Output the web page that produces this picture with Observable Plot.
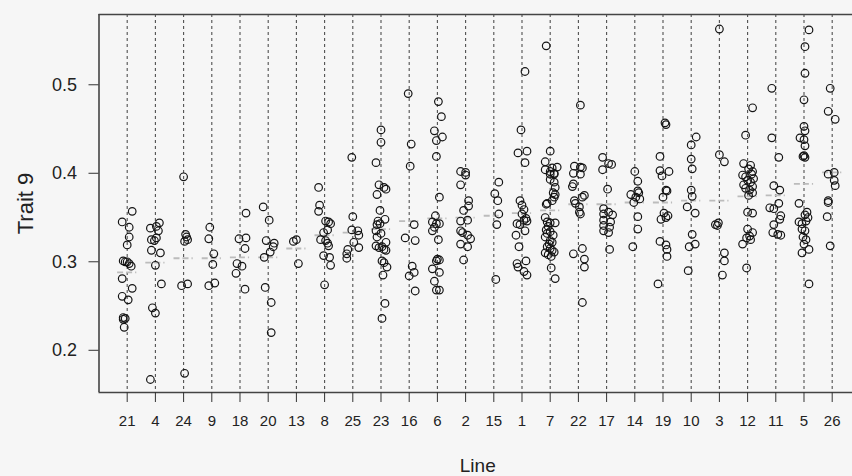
<!DOCTYPE html>
<html>
<head>
<meta charset="utf-8">
<script src="https://cdn.jsdelivr.net/npm/d3@7"></script>
<script src="https://cdn.jsdelivr.net/npm/@observablehq/plot@0.6"></script>
<style>
  html, body { margin: 0; padding: 0; background: #f6f6f6; }
  #chart svg { display: block; }
</style>
</head>
<body>
<div id="chart"></div>
<script>
// Categories (lines), in plotted order
const lines = ["21","4","24","9","18","20","13","8","25","23","16","6","2","15","1","7","22","17","14","19","10","3","12","11","5","26"];

// Trait 9 observations per line (same order as `lines`)
const traitValues = [
  [0.357,0.345,0.339,0.328,0.319,0.301,0.300,0.300,0.298,0.295,0.281,0.270,0.261,0.257,0.237,0.236,0.235,0.226],
  [0.344,0.340,0.338,0.335,0.327,0.325,0.324,0.313,0.310,0.296,0.275,0.248,0.242,0.167],
  [0.396,0.331,0.328,0.325,0.323,0.275,0.273,0.174],
  [0.339,0.326,0.309,0.297,0.276,0.273],
  [0.355,0.327,0.326,0.315,0.298,0.295,0.287,0.269],
  [0.362,0.347,0.324,0.321,0.317,0.311,0.305,0.271,0.254,0.220],
  [0.325,0.323,0.298],
  [0.384,0.364,0.357,0.346,0.345,0.343,0.336,0.333,0.325,0.324,0.321,0.318,0.307,0.305,0.296,0.274],
  [0.418,0.351,0.336,0.335,0.330,0.322,0.316,0.314,0.309,0.304],
  [0.449,0.435,0.412,0.387,0.384,0.382,0.376,0.358,0.348,0.346,0.343,0.342,0.335,0.332,0.328,0.322,0.318,0.317,0.316,0.314,0.313,0.301,0.299,0.294,0.285,0.253,0.236],
  [0.490,0.433,0.408,0.342,0.327,0.324,0.295,0.288,0.284,0.267],
  [0.481,0.464,0.448,0.441,0.437,0.419,0.373,0.352,0.345,0.343,0.343,0.339,0.335,0.325,0.303,0.302,0.301,0.292,0.288,0.278,0.268,0.268],
  [0.402,0.401,0.398,0.387,0.369,0.363,0.358,0.347,0.346,0.335,0.333,0.330,0.326,0.320,0.317,0.302],
  [0.390,0.377,0.369,0.354,0.342,0.280],
  [0.515,0.449,0.425,0.423,0.412,0.369,0.364,0.359,0.354,0.349,0.347,0.346,0.343,0.342,0.335,0.330,0.317,0.301,0.298,0.294,0.289,0.285],
  [0.544,0.425,0.413,0.407,0.406,0.404,0.402,0.400,0.399,0.399,0.393,0.390,0.384,0.378,0.376,0.373,0.369,0.366,0.365,0.350,0.345,0.344,0.344,0.340,0.336,0.334,0.332,0.330,0.328,0.324,0.322,0.320,0.317,0.315,0.313,0.311,0.310,0.308,0.306,0.293,0.281],
  [0.477,0.408,0.407,0.406,0.400,0.399,0.388,0.385,0.375,0.373,0.369,0.366,0.362,0.356,0.354,0.315,0.309,0.303,0.294,0.254],
  [0.418,0.411,0.410,0.404,0.382,0.360,0.356,0.354,0.353,0.347,0.345,0.341,0.339,0.335,0.333,0.314],
  [0.402,0.391,0.380,0.378,0.376,0.373,0.371,0.367,0.351,0.337,0.317],
  [0.457,0.455,0.419,0.403,0.402,0.397,0.381,0.380,0.373,0.355,0.352,0.350,0.348,0.323,0.319,0.314,0.306,0.275],
  [0.441,0.432,0.416,0.405,0.381,0.374,0.362,0.355,0.331,0.320,0.317,0.290],
  [0.563,0.421,0.413,0.344,0.342,0.341,0.310,0.301,0.285],
  [0.474,0.443,0.411,0.409,0.405,0.402,0.399,0.398,0.396,0.394,0.392,0.390,0.387,0.385,0.383,0.381,0.378,0.375,0.356,0.355,0.337,0.333,0.329,0.327,0.325,0.320,0.293],
  [0.496,0.440,0.418,0.386,0.381,0.366,0.361,0.360,0.352,0.348,0.342,0.333,0.331,0.330],
  [0.562,0.543,0.513,0.483,0.453,0.448,0.440,0.438,0.431,0.420,0.419,0.418,0.366,0.356,0.353,0.350,0.346,0.345,0.343,0.337,0.335,0.328,0.325,0.320,0.314,0.310,0.275],
  [0.496,0.470,0.461,0.401,0.399,0.392,0.386,0.369,0.367,0.351,0.318]
];

const jitter = [
  [5,-5,2,2,0,-4,-2,0,2,4,-5,5,-5,1,-4,-2,-4,-3],
  [4,1,-5,3,1,-4,-1,-4,5,0,6,-3,0,-5],
  [0,2,3,4,1,4,-2,1],
  [-2,-3,2,1,3,-3],
  [6,6,-1,5,-3,2,-4,5],
  [-5,1,-2,6,5,2,-4,-3,3,3],
  [0,-3,2],
  [-6,-5,-6,1,4,6,3,-1,-4,1,3,4,-1,5,6,0],
  [-1,0,-1,5,6,1,6,-5,-6,-6],
  [0,0,-5,-2,3,5,-4,-1,4,-3,-1,-4,-5,0,-4,5,-5,1,-2,3,5,1,3,6,2,4,1],
  [-1,2,1,5,-4,6,3,5,0,6],
  [1,4,-3,5,-1,-1,2,-2,-5,-1,2,-3,-5,1,0,2,-1,-5,2,-3,-1,2],
  [-5,0,0,-5,3,3,-2,2,-5,-5,-3,2,5,-5,2,-2],
  [5,1,4,5,3,2],
  [3,-1,5,-4,3,-2,0,2,0,4,2,5,-5,-2,3,-6,-3,4,-5,-4,2,5],
  [-4,0,-5,7,2,-5,0,4,0,4,0,4,5,3,5,4,2,-3,-4,-5,-3,0,5,-2,-4,0,-3,3,-5,0,2,-1,-3,0,2,4,-5,-2,1,1,5],
  [2,-4,2,4,-5,2,-5,-6,6,4,-4,-3,1,1,2,4,-5,6,6,4],
  [-4,2,5,-4,1,-3,2,-3,6,-3,4,-3,3,-3,2,3],
  [0,3,3,4,-4,1,5,-1,3,3,-2],
  [2,3,-3,-3,6,-1,3,4,0,1,5,3,-2,-3,3,4,4,-5],
  [5,0,0,1,0,1,-4,4,1,4,-2,-3],
  [0,0,5,-1,-4,-2,5,5,3],
  [5,-2,-4,3,1,5,4,-5,-2,6,0,3,-4,5,-2,2,5,1,0,5,0,5,2,-1,3,-5,-1],
  [-4,-4,3,-2,4,3,-6,-2,5,4,-2,-3,2,5],
  [5,1,1,0,0,1,-4,0,1,0,-1,1,-5,3,1,4,2,-5,-2,-2,1,-1,2,0,5,-2,5],
  [-2,-4,3,2,-4,2,3,-4,-4,-5,-2]
];

// Line means (grey dashed marks)
const means = [0.288,0.299,0.304,0.304,0.305,0.305,0.315,0.330,0.333,0.337,0.346,0.349,0.350,0.352,0.355,0.358,0.365,0.365,0.367,0.367,0.369,0.369,0.374,0.375,0.388,0.401];

// Axis ticks
const yTicks = [0.2, 0.3, 0.4, 0.5];
const yDomain = [0.1523, 0.5794];
const xDomain = [0, 26.72];

const positions = lines.map((d, i) => i + 1);
const points = lines.flatMap((line, i) =>
  traitValues[i].map((v, k) => ({
    line,
    pos: i + 1 + ((jitter[i] && jitter[i][k]) || 0) / 28.2,
    value: v
  }))
);

const font = "'Liberation Sans', Arial, Helvetica, sans-serif";

const chart = Plot.plot({
  width: 852,
  height: 476,
  marginLeft: 98.5,
  marginRight: 0,
  marginTop: 14,
  marginBottom: 84,
  x: { domain: xDomain, axis: null },
  y: { domain: yDomain, axis: null },
  style: { background: "#f6f6f6", fontFamily: font, color: "#222" },
  marks: [
    // vertical dashed guide lines
    Plot.ruleX(positions, { x: d => d, stroke: "#505050", strokeWidth: 1.1, strokeDasharray: "3,3" }),
    // mean marks
    Plot.ruleY(means, {
      y: d => d,
      x1: (d, i) => i + 1 - 0.34,
      x2: (d, i) => i + 1 + 0.34,
      stroke: "#bcbcbc",
      strokeWidth: 1.8,
      strokeDasharray: "6,3"
    }),
    // observations
    Plot.dot(points, { x: "pos", y: "value", r: 3.8, stroke: "#151515", strokeWidth: 1.2, fill: "none" }),
    // frame (left, top, bottom)
    Plot.ruleX([xDomain[0]], { stroke: "#444", strokeWidth: 1.6 }),
    Plot.ruleY(yDomain, { stroke: "#444", strokeWidth: 1.6 }),
    // axes
    Plot.axisY(yTicks, {
      tickSize: 10, tickPadding: 12, fontSize: 18, label: null,
      stroke: "#333", fill: "#222", tickFormat: d => d.toFixed(1)
    }),
    Plot.axisX(positions, {
      tickSize: 10, tickPadding: 13, fontSize: 15, label: null,
      stroke: "#333", fill: "#222", tickFormat: d => lines[d - 1]
    }),
    // axis titles
    Plot.text(["Trait 9"], { frameAnchor: "left", textAnchor: "middle", lineAnchor: "middle", dx: -73, rotate: -90, fontSize: 22, fill: "#222" }),
    Plot.text(["Line"], { frameAnchor: "bottom", textAnchor: "middle", lineAnchor: "middle", dx: 2, dy: 73, fontSize: 19, fill: "#222" })
  ]
});

document.getElementById("chart").appendChild(chart);
</script>
</body>
</html>
